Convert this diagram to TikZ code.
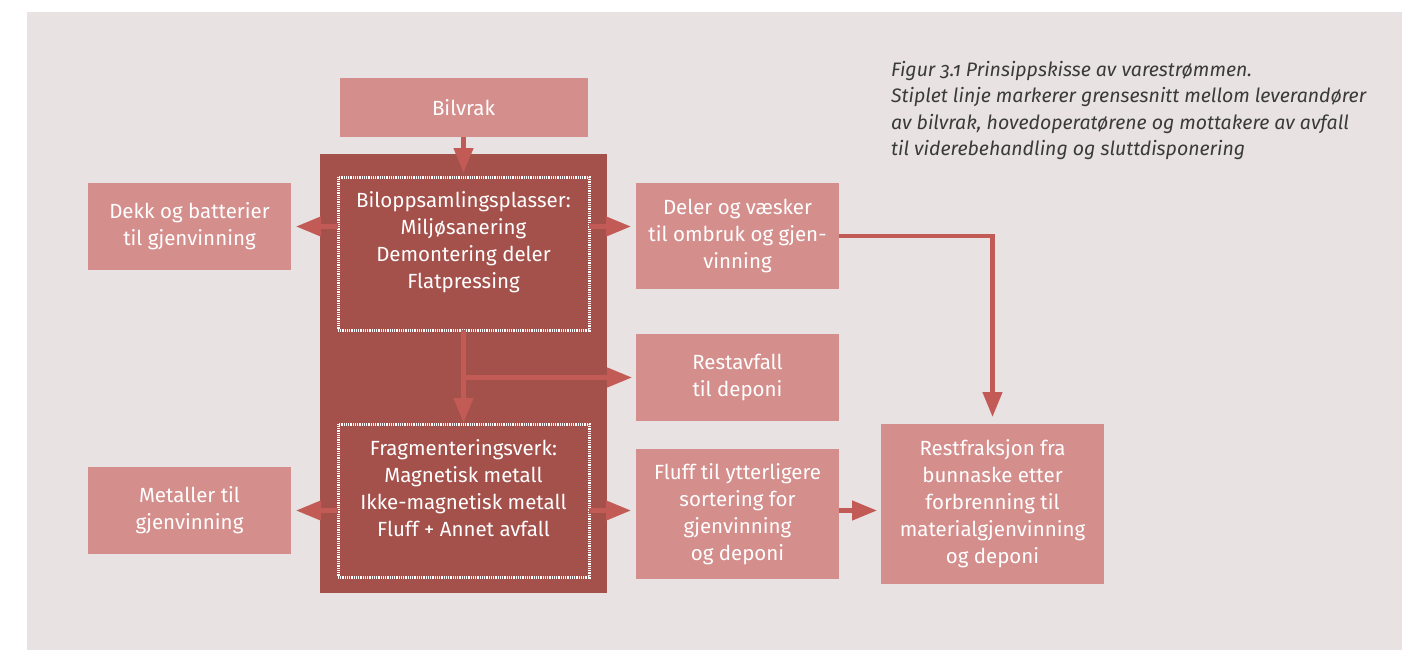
\documentclass[tikz,border=0pt]{standalone}
\usepackage{fontspec}
\setmainfont{Fira Sans}
\usetikzlibrary{arrows.meta}
\definecolor{bgc}{HTML}{E8E2E2}
\definecolor{lightbox}{HTML}{D48E8C}
\definecolor{darkbox}{HTML}{A4504B}
\definecolor{arrc}{HTML}{C25A55}
\definecolor{capc}{HTML}{3A3A3A}
\begin{document}
\begin{tikzpicture}[x=1pt,y=-1pt,
  lbox/.style={fill=lightbox, text=white, align=center, inner sep=0pt, outer sep=0pt,
    font=\fontsize{20.5}{27}\selectfont},
  dashbox/.style={draw=white, line width=3pt, dash pattern=on 0.9pt off 0.9pt, inner sep=0pt, outer sep=0pt},
  txt/.style={text=white, align=center, inner sep=0pt, font=\fontsize{20.5}{27}\selectfont},
  flow/.style={draw=arrc, line width=4.5pt, -{Triangle[length=25pt,width=19pt]}}]
\useasboundingbox (0,0) rectangle (1402,650);
\fill[bgc] (27,12) rectangle (1402,650);
% boxes
\node[lbox, minimum width=248pt, minimum height=59pt] (bilvrak) at (463.5,107.5) {Bilvrak};
\node[fill=darkbox, minimum width=287pt, minimum height=439pt, inner sep=0pt, outer sep=0pt] (plant) at (463.5,373.5) {};
\node[dashbox, minimum width=251pt, minimum height=153pt] (bil) at (463.5,253.5) {};
\node[dashbox, minimum width=251pt, minimum height=153pt] (frag) at (463.5,500.5) {};
\node[txt] (biltxt) at (463.5,242) {Biloppsamlingsplasser:\\Miljøsanering\\Demontering deler\\Flatpressing};
\node[txt] (fragtxt) at (463.5,488) {Fragmenteringsverk:\\Magnetisk metall\\Ikke-magnetisk metall\\Fluff + Annet avfall};
\node[lbox, minimum width=203pt, minimum height=87pt] (dekk) at (189.5,226.5) {Dekk og batterier\\til gjenvinning};
\node[lbox, minimum width=203pt, minimum height=87pt] (metal) at (189.5,510.5) {Metaller til\\gjenvinning};
\node[lbox, minimum width=203pt, minimum height=106pt] (deler) at (737.5,236) {Deler og væsker\\til ombruk og gjen-\\vinning};
\node[lbox, minimum width=203pt, minimum height=87pt] (rest) at (737.5,377.5) {Restavfall\\til deponi};
\node[lbox, minimum width=203pt, minimum height=130pt] (fluff) at (737.5,514) {Fluff til ytterligere\\sortering for\\gjenvinning\\og deponi};
\node[lbox, minimum width=223pt, minimum height=160pt] (restf) at (992.5,504) {Restfraksjon fra\\bunnaske etter\\forbrenning til\\materialgjenvinning\\og deponi};
% caption
\node[anchor=north west, align=left, inner sep=0pt, text=capc,
  font=\fontsize{19.5}{26.3}\selectfont\itshape] (caption) at (891,61)
  {Figur {\addfontfeatures{Numbers=OldStyle}3.1} Prinsippskisse av varestrømmen.\\
   Stiplet linje markerer grensesnitt mellom leverandører\\
   av bilvrak, hovedoperatørene og mottakere av avfall\\
   til viderebehandling og sluttdisponering};
% arrows
\draw[flow, shorten >=4pt] (bilvrak.south) -- (bil.north);
\draw[flow, shorten >=5pt] (bil.west |- dekk.east) -- (dekk.east);
\draw[flow, shorten >=5pt] (bil.east |- dekk.east) -- (deler.west |- dekk.east);
\draw[flow, shorten >=1pt] (bil.south) -- (frag.north);
\draw[flow, shorten >=4pt] (bil.south |- rest.west) -- (rest.west);
\draw[flow, shorten >=5pt] (frag.west |- metal.east) -- (metal.east);
\draw[flow, shorten >=5pt] (frag.east |- metal.east) -- (fluff.west |- metal.east);
\draw[flow, shorten >=4pt] (fluff.east |- metal.east) -- (restf.west |- metal.east);
\draw[flow, shorten >=7pt] (deler.east) -| (restf.north);
\end{tikzpicture}
\end{document}
